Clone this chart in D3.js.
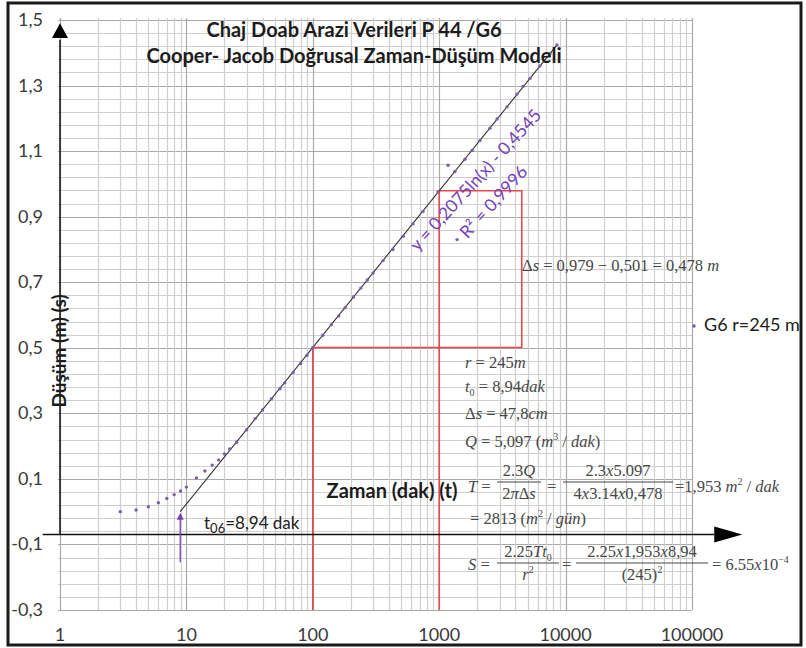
<!DOCTYPE html>
<html>
<head>
<meta charset="utf-8">
<script src="https://cdn.jsdelivr.net/npm/d3@7"></script>
<style>
  body { margin: 0; background: #fff; }
  svg { display: block; }
</style>
</head>
<body>
<svg width="806" height="648"></svg>
<script>
// field data, P 44 / G6 (time in min, drawdown in m)
var times = [3, 4, 5, 6, 7, 8, 9, 10, 12, 14, 16, 18, 20, 22, 25, 30, 35, 40, 47, 55, 60, 70, 80, 90,
  100, 120, 140, 160, 180, 210, 240, 270, 300, 360, 430, 520, 620, 745, 980, 1175, 1330, 1385,
  1600, 1820, 2100, 2520, 2870, 3440, 4130, 4600, 5230, 6270, 7530, 8550];
var drawdowns = [0.0, 0.005, 0.015, 0.027, 0.04, 0.052, 0.063, 0.075, 0.103, 0.124, 0.142, 0.158, 0.176, 0.191,
  0.212, 0.25, 0.284, 0.31, 0.344, 0.375, 0.393, 0.425, 0.452, 0.477,
  0.501, 0.538, 0.57, 0.597, 0.622, 0.655, 0.682, 0.707, 0.728, 0.766, 0.80, 0.84, 0.878, 0.916, 0.976, 1.057, 1.038, 0.83,
  1.075, 1.102, 1.132, 1.17, 1.198, 1.235, 1.274, 1.297, 1.322, 1.36, 1.398, 1.424];

var xTicks = [1, 10, 100, 1000, 10000, 100000];
var yTicks = [-0.3, -0.1, 0.1, 0.3, 0.5, 0.7, 0.9, 1.1, 1.3, 1.5];

// trendline y = a ln(x) + b
var trendA = 0.2075, trendB = -0.4545;
var trendStart = 8.94, trendEnd = 8550;

// graphical construction
var t0 = 8.94;
var sLow = 0.501, sHigh = 0.979;
var tLow = 100, tHigh = 1000, tBox = 4500;

var svg = d3.select("svg");

var x = d3.scaleLog().domain([1, 100000]).range([60, 692]);
var y = d3.scaleLinear().domain([-0.3, 1.5]).range([610, 20]);

var purple = "#7442b8";
var dotColor = "#7b5ea7";
var red = "#e8474c";

// outer frame
svg.append("rect")
  .attr("x", 8).attr("y", 3).attr("width", 793).attr("height", 642)
  .attr("fill", "#fff").attr("stroke", "#1a1a1a").attr("stroke-width", 3);

// gridlines
var grid = svg.append("g");
var hLines = d3.range(0, 46).map(function (i) { return { v: -0.3 + i * 0.04, major: i % 5 === 0 }; });
grid.selectAll("line.h").data(hLines).enter().append("line")
  .attr("x1", x(1) - 2).attr("x2", x(100000))
  .attr("y1", function (d) { return Math.round(y(d.v)) + 0.5; })
  .attr("y2", function (d) { return Math.round(y(d.v)) + 0.5; })
  .attr("stroke", function (d) { return d.major ? "#a9a9a9" : "#cfcfcf"; })
  .attr("stroke-width", 1.2);

var vLines = [];
xTicks.forEach(function (d) {
  if (d === 100000) { vLines.push({ v: d, major: true }); return; }
  for (var k = 1; k < 10; k++) vLines.push({ v: d * k, major: k === 1 });
});
grid.selectAll("line.v").data(vLines).enter().append("line")
  .attr("x1", function (d) { return Math.round(x(d.v)) + 0.5; })
  .attr("x2", function (d) { return Math.round(x(d.v)) + 0.5; })
  .attr("y1", y(1.5) - 2).attr("y2", y(-0.3))
  .attr("stroke", function (d) { return d.major ? "#a9a9a9" : "#cfcfcf"; })
  .attr("stroke-width", 1.2);

// axis labels
svg.append("g").selectAll("text").data(yTicks).enter().append("text")
  .attr("x", 43).attr("y", function (d) { return y(d) + 6; })
  .attr("text-anchor", "end")
  .style("font", "18px Lato, sans-serif").attr("fill", "#3a3a3a")
  .text(function (d) { return d3.format(".1f")(d).replace(".", ",").replace("−", "-"); });

svg.append("g").selectAll("text").data(xTicks).enter().append("text")
  .attr("x", function (d) { return x(d); }).attr("y", 641)
  .attr("text-anchor", "middle")
  .style("font", "18px Lato, sans-serif").attr("fill", "#3a3a3a")
  .text(function (d) { return d; });

// red construction lines
var redG = svg.append("g").attr("stroke", red).attr("stroke-width", 1.6).attr("fill", "none");
redG.append("path").attr("d", d3.line()([
  [x(tLow), y(-0.3)], [x(tLow), y(sLow)], [x(tBox), y(sLow)], [x(tBox), y(sHigh)], [x(tHigh), y(sHigh)], [x(tHigh), y(-0.3)]
]));

// trendline
svg.append("line")
  .attr("x1", x(trendStart)).attr("y1", y(trendA * Math.log(trendStart) + trendB))
  .attr("x2", x(trendEnd)).attr("y2", y(trendA * Math.log(trendEnd) + trendB))
  .attr("stroke", "#333").attr("stroke-width", 1.1);

// data points
svg.append("g").selectAll("circle").data(times).enter().append("circle")
  .attr("cx", function (d) { return x(d); })
  .attr("cy", function (d, i) { return y(drawdowns[i]); })
  .attr("r", 1.7).attr("fill", dotColor);

// black axis arrows
var axG = svg.append("g");
axG.append("line")
  .attr("x1", x(0.73)).attr("x2", x(150000)).attr("y1", y(-0.07)).attr("y2", y(-0.07))
  .attr("stroke", "#111").attr("stroke-width", 1.5);
axG.append("path")
  .attr("d", "M" + x(150000) + "," + (y(-0.07) - 8) + "L" + x(250000) + "," + y(-0.07) + "L" + x(150000) + "," + (y(-0.07) + 8) + "Z")
  .attr("fill", "#000");
axG.append("line")
  .attr("x1", x(1)).attr("x2", x(1)).attr("y1", y(-0.07)).attr("y2", y(1.44))
  .attr("stroke", "#111").attr("stroke-width", 1.5);
axG.append("path")
  .attr("d", "M" + (x(1) - 8) + "," + y(1.445) + "L" + x(1) + "," + y(1.49) + "L" + (x(1) + 8) + "," + y(1.445) + "Z")
  .attr("fill", "#000");

// purple arrow at t0
svg.append("line")
  .attr("x1", x(t0)).attr("x2", x(t0)).attr("y1", y(-0.154)).attr("y2", y(-0.01))
  .attr("stroke", purple).attr("stroke-width", 1.3);
svg.append("path")
  .attr("d", "M" + (x(t0) - 3.5) + "," + (y(0) + 8) + "L" + x(t0) + "," + (y(0) + 1) + "L" + (x(t0) + 3.5) + "," + (y(0) + 8) + "Z")
  .attr("fill", purple);

// titles
var title = svg.append("text").attr("text-anchor", "middle")
  .style("font", "bold 20px Lato, sans-serif").attr("fill", "#1c1c1c");
title.append("tspan").attr("x", 354).attr("y", 37).text("Chaj Doab Arazi Verileri P 44 /G6");
title.append("tspan").attr("x", 354).attr("y", 63).text("Cooper- Jacob Doğrusal Zaman-Düşüm Modeli");

svg.append("text")
  .attr("transform", "translate(66,351) rotate(-90)")
  .attr("text-anchor", "middle")
  .style("font", "bold 19px Lato, sans-serif").attr("fill", "#1c1c1c")
  .text("Düşüm (m) (s)");

svg.append("text")
  .attr("x", 392).attr("y", 498).attr("text-anchor", "middle")
  .style("font", "bold 20px Lato, sans-serif").attr("fill", "#1c1c1c")
  .text("Zaman (dak) (t)");

// t0 label
var tl = svg.append("text").attr("x", 204).attr("y", 529)
  .style("font", "17px Lato, sans-serif").attr("fill", "#222");
tl.append("tspan").text("t");
tl.append("tspan").attr("dy", 4).style("font-size", "13px").text("06");
tl.append("tspan").attr("dy", -4).text("=8,94 dak");

// legend
svg.append("circle").attr("cx", 694).attr("cy", 326).attr("r", 1.7).attr("fill", dotColor);
svg.append("text").attr("x", 704).attr("y", 331)
  .style("font", "18px Lato, sans-serif").attr("fill", "#222")
  .text("G6 r=245 m");

// trendline equation
svg.append("text")
  .attr("transform", "translate(480,184) rotate(-47.5)")
  .attr("text-anchor", "middle")
  .style("font", "17.5px Lato, sans-serif").attr("fill", purple)
  .text("y = 0,2075ln(x) - 0,4545");
svg.append("text")
  .attr("transform", "translate(498,206) rotate(-47.5)")
  .attr("text-anchor", "middle")
  .style("font", "17.5px Lato, sans-serif").attr("fill", purple)
  .text("R² = 0,9996");

// worked solution (math text)
var mathColor = "#474747";
var mathFont = "16.5px 'Liberation Serif', 'Times New Roman', serif";

function mathText(px, py, segs, anchor) {
  var t = svg.append("text").attr("x", px).attr("y", py)
    .attr("text-anchor", anchor || "start")
    .style("font", mathFont).attr("fill", mathColor);
  segs.forEach(function (s) {
    var sp = t.append("tspan").text(s[0]);
    if (s[1] === 1) sp.style("font-style", "italic");
    if (s[1] === 2) sp.attr("dy", -7).style("font-size", "10px");
    if (s[1] === 3) sp.attr("dy", 7).style("font-size", "16.5px");
    if (s[1] === 4) sp.attr("dy", 4).style("font-size", "10px");
    if (s[1] === 5) sp.attr("dy", -4).style("font-size", "16.5px");
  });
  return t;
}

function frac(cx, barY, halfW, num, den) {
  mathText(cx, barY - 6, num, "middle");
  mathText(cx, barY + 17, den, "middle");
  svg.append("line")
    .attr("x1", cx - halfW).attr("x2", cx + halfW).attr("y1", barY).attr("y2", barY)
    .attr("stroke", mathColor).attr("stroke-width", 1);
}

mathText(522, 271, [["Δ", 0], ["s", 1], [" = 0,979 − 0,501 = 0,478 ", 0], ["m", 1]]);
mathText(465, 368, [["r", 1], [" = 245", 0], ["m", 1]]);
mathText(465, 392, [["t", 1], ["0", 4], [" = 8,94", 5], ["dak", 1]]);
mathText(465, 419, [["Δ", 0], ["s", 1], [" = 47,8", 0], ["cm", 1]]);
mathText(465, 447, [["Q", 1], [" = 5,097 (", 0], ["m", 1], ["3", 2], [" / ", 3], ["dak", 1], [")", 0]]);

mathText(468, 492, [["T", 1], [" =", 0]]);
frac(519, 482, 22, [["2.3", 0], ["Q", 1]], [["2", 0], ["π", 1], ["Δ", 0], ["s", 1]]);
mathText(547, 492, [["=", 0]]);
frac(618, 482, 55, [["2.3", 0], ["x", 1], ["5.097", 0]], [["4", 0], ["x", 1], ["3.14", 0], ["x", 1], ["0,478", 0]]);
mathText(675, 492, [["=1,953 ", 0], ["m", 1], ["2", 2], [" / ", 3], ["dak", 1]]);

mathText(470, 524, [["= 2813 (", 0], ["m", 1], ["2", 2], [" / ", 3], ["gün", 1], [")", 0]]);

mathText(468, 570, [["S", 1], [" =", 0]]);
frac(528, 563, 31, [["2.25", 0], ["Tt", 1], ["0", 4]], [["r", 1], ["2", 2]]);
mathText(562, 570, [["=", 0]]);
frac(642, 563, 66, [["2.25", 0], ["x", 1], ["1,953", 0], ["x", 1], ["8,94", 0]], [["(245)", 0], ["2", 2]]);
mathText(712, 570, [["= 6.55", 0], ["x", 1], ["10", 0], ["−4", 2]]);
</script>
</body>
</html>
